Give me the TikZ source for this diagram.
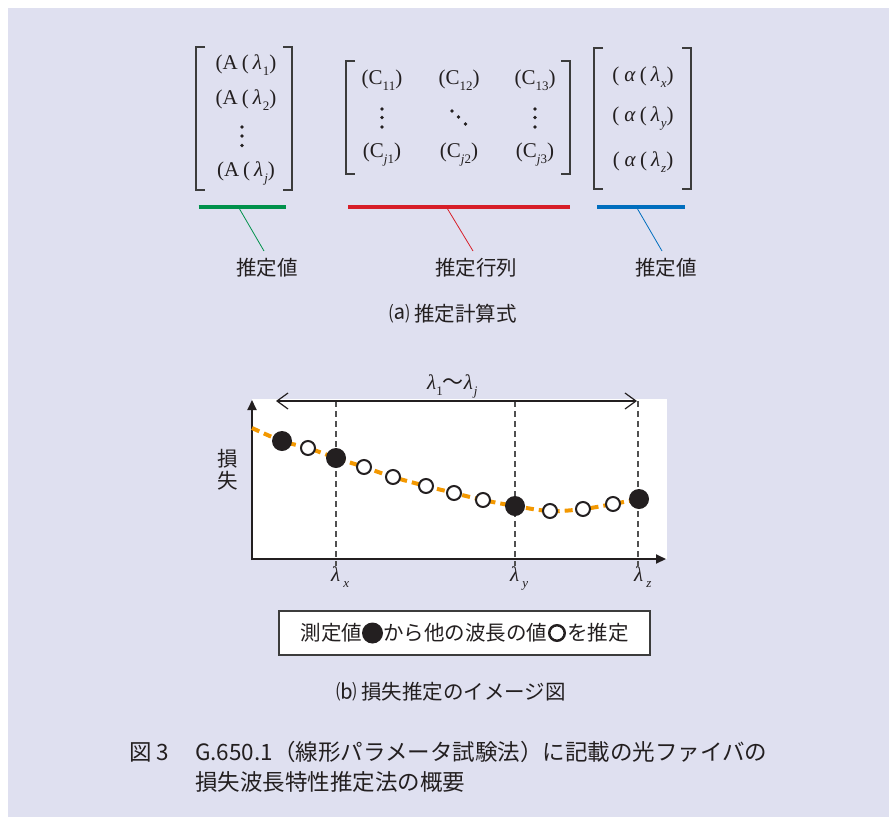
\documentclass[tikz,border=0pt]{standalone}
\usepackage{fontspec}
\newfontfamily\jp{Noto Sans CJK JP}
\newfontfamily\serif{Liberation Serif}
\usetikzlibrary{arrows.meta}
\definecolor{bgc}{RGB}{223,224,240}
\definecolor{gr}{RGB}{0,145,75}
\definecolor{rd}{RGB}{215,30,40}
\definecolor{bl}{RGB}{0,110,190}
\definecolor{org}{RGB}{243,152,0}
\definecolor{ink}{RGB}{35,31,32}
\definecolor{brk}{RGB}{60,60,60}
\newcommand\mysb[1]{\raisebox{-6pt}{\fontsize{13}{13}\selectfont #1}}
\newcommand\lam{\textit{λ}}
\newcommand\blackdot{\raisebox{-3pt}{\tikz\fill[ink] (0,0) circle (10.5pt);}}
\newcommand\whitedot{\raisebox{-1.5pt}{\tikz\draw[ink, line width=2.5pt] (0,0) circle (7.75pt);}}
\begin{document}
\begin{tikzpicture}[x=1pt,y=-1pt,
  mathtxt/.style={inner sep=0pt, text=ink, font=\serif\fontsize{21}{24}\selectfont},
  jplbl/.style={inner sep=0pt, text=ink, font=\jp\fontsize{20.5}{24}\selectfont},
  captxt/.style={inner sep=0pt, text=ink, font=\jp\fontsize{22.5}{26}\selectfont, anchor=west},
  brack/.style={brk, line width=1.5pt},
  bar/.style={line width=4pt},
  leader/.style={line width=0.8pt},
  dotpt/.style={circle, fill=ink, minimum size=3.8pt, inner sep=0pt},
  fillpt/.style={circle, fill=ink, minimum size=20pt, inner sep=0pt},
  openpt/.style={circle, draw=ink, fill=white, line width=2pt, minimum size=14pt, inner sep=0pt},
  guide/.style={draw=brk!90, line width=1.3pt, dash pattern=on 6pt off 4pt},
  axis/.style={ink, line width=2pt, -{Triangle[length=10pt,width=9pt]}}
]
\useasboundingbox (0,0) rectangle (889,817);
\fill[bgc] (8,8) rectangle (889,817);

% ---------- (a) matrices ----------
% left matrix
\draw[brack] (205,47) -- (196,47) -- (196,190) -- (205,190);
\draw[brack] (283,47) -- (292,47) -- (292,190) -- (283,190);
\node[mathtxt] (a1) at (246,65) {(A\hspace{4pt}(\hspace{4pt}\lam\hspace{1pt}\mysb{1})};
\node[mathtxt] (a2) at (246,100) {(A\hspace{4pt}(\hspace{4pt}\lam\hspace{1pt}\mysb{2})};
\node[dotpt] (a3a) at (242,127) {};
\node[dotpt] (a3b) at (242,136) {};
\node[dotpt] (a3c) at (242,145.5) {};
\node[mathtxt] (a4) at (246,173) {(A\hspace{4pt}(\hspace{4pt}\lam\hspace{1pt}\mysb{\textit{j}})};
% middle matrix
\draw[brack] (355,61) -- (346,61) -- (346,174) -- (355,174);
\draw[brack] (561,61) -- (570,61) -- (570,174) -- (561,174);
\node[mathtxt] (c11) at (382,80) {(C\mysb{11})};
\node[mathtxt] (c12) at (459,80) {(C\mysb{12})};
\node[mathtxt] (c13) at (535,80) {(C\mysb{13})};
\node[dotpt] (c21a) at (382,109) {};
\node[dotpt] (c21b) at (382,117.5) {};
\node[dotpt] (c21c) at (382,127) {};
\node[dotpt] (c22a) at (452,111) {};
\node[dotpt] (c22b) at (458.5,117) {};
\node[dotpt] (c22c) at (465.5,124) {};
\node[dotpt] (c23a) at (535,109) {};
\node[dotpt] (c23b) at (535,117.5) {};
\node[dotpt] (c23c) at (535,127) {};
\node[mathtxt] (c31) at (382,155) {(C\mysb{\textit{j}1})};
\node[mathtxt] (c32) at (459,155) {(C\mysb{\textit{j}2})};
\node[mathtxt] (c33) at (535,155) {(C\mysb{\textit{j}3})};
% right matrix
\draw[brack] (603,48) -- (594,48) -- (594,189) -- (603,189);
\draw[brack] (682,48) -- (691,48) -- (691,189) -- (682,189);
\node[mathtxt] (r1) at (643,77) {(\hspace{5pt}\textit{α}\hspace{4pt}(\hspace{4pt}\lam\hspace{1pt}\mysb{\textit{x}})};
\node[mathtxt] (r2) at (643,119) {(\hspace{5pt}\textit{α}\hspace{4pt}(\hspace{4pt}\lam\hspace{1pt}\mysb{\textit{y}})};
\node[mathtxt] (r3) at (643,162) {(\hspace{5pt}\textit{α}\hspace{4pt}(\hspace{4pt}\lam\hspace{1pt}\mysb{\textit{z}})};

% bars and leaders
\coordinate (gL) at (198.5,207); \coordinate (gR) at (286,207);
\coordinate (rL) at (348,207);   \coordinate (rR) at (570,207);
\coordinate (bL) at (597,207);   \coordinate (bR) at (685,207);
\draw[bar, gr] (gL) -- (gR);
\draw[bar, rd] (rL) -- (rR);
\draw[bar, bl] (bL) -- (bR);
\coordinate (gtop) at (239,208); \coordinate (gend) at (264,251);
\coordinate (rtop) at (447,208); \coordinate (rend) at (473,251);
\coordinate (btop) at (637,208); \coordinate (bend) at (662,251);
\draw[leader, gr] (gtop) -- (gend);
\draw[leader, rd] (rtop) -- (rend);
\draw[leader, bl] (btop) -- (bend);
\node[jplbl] (gl) at (267,268) {推定値};
\node[jplbl] (rl) at (476,268) {推定行列};
\node[jplbl] (bl) at (666,268) {推定値};
\node[jplbl] (capa) at (453,314) {⒜ 推定計算式};

% ---------- (b) plot ----------
\fill[white] (252,399) rectangle (667,559);
\coordinate (gx1) at (336,401); \coordinate (gx1b) at (336,566);
\coordinate (gy1) at (515,401); \coordinate (gy1b) at (515,566);
\coordinate (gz1) at (638,401); \coordinate (gz1b) at (638,566);
\draw[guide] (gx1) -- (gx1b);
\draw[guide] (gy1) -- (gy1b);
\draw[guide] (gz1) -- (gz1b);
\coordinate (ytip) at (252,400);
\coordinate (xtip) at (666,559);
\draw[axis] (252,560) -- (ytip);
\draw[axis] (251,559) -- (xtip);
\coordinate (spL) at (276,401); \coordinate (spR) at (637,401);
\draw[ink, line width=1.2pt, {Straight Barb[length=11pt,width=16pt]}-{Straight Barb[length=11pt,width=16pt]}] (spL) -- (spR);
\node[mathtxt, anchor=base west] (span) at (427,389) {\lam\mysb{1}{\jp 〜}\lam\hspace{1pt}\mysb{\textit{j}}};

\draw[org, line width=4pt, dash pattern=on 8pt off 5pt] plot[smooth, tension=0.6] coordinates
 {(252,428) (282,441) (308,448) (336,458) (364,467) (393,477) (426,486) (454,493) (483,500) (515,506) (550,511) (583,509) (613,504) (639,499)};

\node[fillpt] (m1) at (282,441) {};
\node[openpt] (e1) at (308,448) {};
\node[fillpt] (m2) at (336,458) {};
\node[openpt] (e2) at (364,467) {};
\node[openpt] (e3) at (393,477) {};
\node[openpt] (e4) at (426,486) {};
\node[openpt] (e5) at (454,493) {};
\node[openpt] (e6) at (483,500) {};
\node[fillpt] (m3) at (515,506) {};
\node[openpt] (e7) at (550,511) {};
\node[openpt] (e8) at (583,509) {};
\node[openpt] (e9) at (613,504) {};
\node[fillpt] (m4) at (639,499) {};

\node[mathtxt, anchor=base west] (lx) at (331,581) {\lam\hspace{3pt}\mysb{\textit{x}}};
\node[mathtxt, anchor=base west] (ly) at (510,581) {\lam\hspace{3pt}\mysb{\textit{y}}};
\node[mathtxt, anchor=base west] (lz) at (634,581) {\lam\hspace{3pt}\mysb{\textit{z}}};
\node[jplbl] (yl1) at (228,459) {損};
\node[jplbl] (yl2) at (228,481) {失};

\node[jplbl, draw=brk, line width=1.5pt, fill=white, minimum width=371pt, minimum height=44pt] (legend) at (464.5,633) {測定値\blackdot から他の波長の値\hspace{1pt}\whitedot\hspace{1pt}を推定};
\node[jplbl] (capb) at (451,692) {⒝ 損失推定のイメージ図};

% ---------- caption ----------
\node[captxt] (fig) at (129,752) {図 3};
\node[captxt] (cap1) at (195,752) {G.650.1（線形パラメータ試験法）に記載の光ファイバの};
\node[captxt] (cap2) at (195,782) {損失波長特性推定法の概要};
\end{tikzpicture}
\end{document}
